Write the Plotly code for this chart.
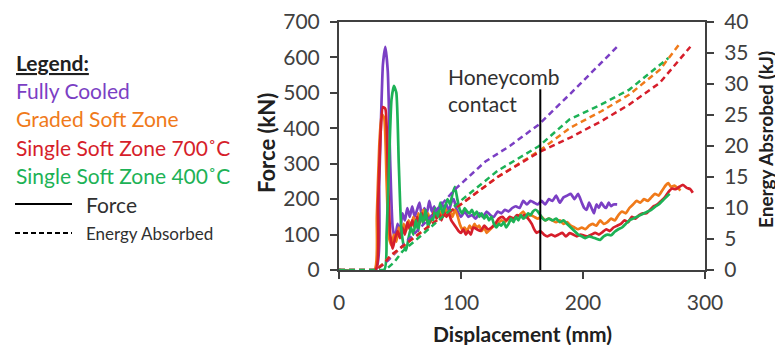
import plotly.graph_objects as go

# ---------------- data ----------------
fc_x = [0, 30, 33, 36, 38, 40, 42, 44, 46, 48, 50, 52, 54, 56, 58, 60, 62, 64, 66, 68, 70, 72, 74, 76, 78, 80, 82, 84, 86, 88, 90, 92, 94, 96, 98, 100, 103, 106, 109, 112, 115, 118, 121, 124, 127, 130, 133, 136, 139, 142, 145, 148, 151, 154, 157, 160, 163, 166, 169, 172, 175, 178, 181, 184, 187, 190, 193, 196, 199, 201, 203, 205, 207, 209, 211, 213, 215, 217, 219, 221, 223, 225, 228]
fc_f = [0, 0, 250, 580, 630, 560, 300, 120, 90, 130, 110, 160, 140, 175, 150, 180, 150, 170, 190, 150, 175, 160, 195, 165, 180, 150, 170, 190, 175, 185, 165, 190, 200, 175, 160, 150, 165, 150, 155, 145, 160, 150, 165, 155, 150, 165, 160, 170, 165, 175, 180, 175, 195, 185, 195, 190, 185, 195, 185, 200, 195, 210, 190, 205, 210, 215, 200, 215, 190, 175, 170, 190, 175, 160, 185, 175, 190, 180, 175, 190, 180, 185, 185]

gs_x = [0, 29, 31, 33, 35, 37, 39, 41, 43, 45, 47, 49, 51, 53, 55, 57, 59, 61, 63, 65, 67, 69, 71, 73, 75, 77, 79, 81, 83, 85, 87, 89, 91, 93, 95, 97, 99, 101, 103, 105, 107, 109, 111, 113, 115, 117, 119, 121, 124, 127, 130, 133, 136, 139, 142, 145, 148, 151, 154, 157, 160, 163, 166, 169, 172, 175, 178, 181, 184, 187, 190, 193, 196, 199, 202, 205, 208, 211, 214, 217, 220, 223, 226, 229, 232, 235, 238, 241, 244, 247, 250, 253, 256, 259, 262, 265, 268, 270, 272, 275, 278, 280]
gs_f = [0, 0, 150, 350, 440, 430, 250, 90, 70, 100, 80, 120, 100, 130, 110, 140, 120, 150, 125, 160, 140, 170, 145, 160, 135, 155, 170, 150, 165, 150, 175, 160, 165, 150, 170, 155, 130, 115, 120, 110, 125, 115, 130, 120, 125, 110, 120, 105, 115, 125, 130, 140, 135, 145, 140, 150, 155, 165, 150, 155, 150, 145, 150, 140, 145, 140, 135, 140, 130, 135, 125, 120, 115, 120, 115, 125, 130, 125, 140, 130, 135, 145, 140, 155, 165, 160, 175, 185, 195, 190, 200, 195, 205, 215, 210, 225, 240, 245, 235, 238, 230, 225]

s7_x = [0, 30, 32, 34, 36, 38, 40, 42, 44, 46, 48, 50, 52, 54, 56, 58, 60, 62, 64, 66, 68, 70, 72, 74, 76, 78, 80, 82, 84, 86, 88, 90, 92, 94, 96, 98, 100, 102, 104, 106, 108, 110, 113, 116, 119, 122, 125, 128, 131, 134, 137, 140, 143, 146, 149, 152, 155, 158, 160, 162, 165, 168, 171, 174, 177, 180, 183, 186, 189, 192, 195, 198, 201, 204, 207, 210, 213, 216, 219, 222, 225, 228, 231, 234, 237, 240, 243, 246, 249, 252, 255, 258, 261, 264, 267, 270, 273, 276, 279, 282, 285, 288, 290]
s7_f = [0, 0, 180, 380, 460, 455, 280, 100, 60, 90, 110, 90, 120, 100, 135, 115, 140, 120, 150, 130, 160, 140, 155, 130, 150, 165, 145, 160, 140, 165, 150, 160, 140, 130, 120, 110, 105, 115, 100, 110, 100, 120, 115, 110, 125, 115, 120, 130, 145, 150, 140, 150, 145, 155, 150, 155, 145, 130, 115, 105, 110, 100, 95, 100, 95, 100, 105, 95, 104, 100, 95, 100, 97, 95, 100, 105, 100, 107, 115, 110, 120, 125, 130, 140, 135, 150, 145, 155, 160, 160, 170, 180, 185, 195, 205, 220, 230, 228, 235, 240, 232, 228, 218]

s4_x = [0, 37, 39, 41, 43, 45, 47, 49, 51, 53, 55, 57, 59, 61, 63, 65, 67, 69, 71, 73, 75, 77, 79, 81, 83, 85, 87, 89, 91, 93, 95, 97, 99, 101, 103, 105, 107, 109, 111, 113, 115, 117, 119, 121, 123, 125, 127, 129, 131, 133, 135, 137, 139, 141, 143, 145, 147, 149, 151, 153, 155, 157, 159, 161, 163, 165, 167, 169, 172, 175, 178, 181, 184, 187, 190, 193, 196, 199, 202, 205, 208, 211, 214, 217, 220, 223, 226, 229, 232, 235, 238, 241, 244, 247, 250, 253, 256, 259, 262, 265, 268, 271]
s4_f = [0, 0, 100, 300, 480, 520, 500, 300, 120, 70, 55, 90, 120, 100, 140, 110, 160, 130, 170, 120, 150, 140, 175, 150, 190, 160, 180, 200, 185, 215, 235, 200, 170, 160, 175, 165, 160, 170, 155, 165, 150, 160, 145, 155, 140, 150, 130, 120, 130, 125, 135, 120, 130, 145, 135, 150, 140, 155, 145, 150, 160, 155, 165, 170, 165, 155, 145, 140, 145, 140, 145, 135, 140, 130, 120, 110, 100, 95, 90, 95, 92, 88, 85, 95, 100, 98, 108, 115, 120, 130, 140, 145, 150, 155, 160, 165, 170, 178, 185, 195, 205, 215]

fc_ex = [0, 30, 40, 50, 70, 95, 120, 140, 164, 190, 210, 229]
fc_e = [0, 0, 1.5, 3.5, 7.5, 13, 17.5, 20, 23.5, 28.5, 32.5, 36.2]
gs_ex = [0, 30, 36, 42, 60, 80, 100, 130, 164, 190, 215, 238, 263, 280]
gs_e = [0, 0, 1, 2.2, 5, 8, 10.6, 15, 19.2, 23, 25.6, 28.3, 32.3, 36.7]
s7_ex = [0, 30, 37, 42, 60, 80, 100, 130, 164, 190, 215, 238, 263, 288]
s7_e = [0, 0, 1, 2.3, 5, 8, 10.6, 15, 19, 21.4, 24, 26.7, 30.2, 36]
s4_ex = [0, 38, 45, 52, 70, 100, 130, 164, 189, 215, 238, 263, 270]
s4_e = [0, 0, 1.2, 3, 6, 11.2, 16, 20, 24.3, 26.7, 29.1, 33.2, 34.2]

series_names = ["Fully Cooled", "Graded Soft Zone", "Single Soft Zone 700˚C", "Single Soft Zone 400˚C"]
colors = ["#7B3FC4", "#F07A1A", "#D61E2B", "#1DB256"]

honeycomb_x = 165
honeycomb_top = 510

x_ticks = [0, 100, 200, 300]
force_ticks = [0, 100, 200, 300, 400, 500, 600, 700]
energy_ticks = [0, 5, 10, 15, 20, 25, 30, 35, 40]

# ---------------- figure ----------------
FONT = "Lato, Carlito, Calibri, sans-serif"
AX = "#404040"
TXT = "#303030"
FS = 21
fig = go.Figure()

energy = [(fc_ex, fc_e), (gs_ex, gs_e), (s7_ex, s7_e), (s4_ex, s4_e)]
force = [(fc_x, fc_f), (gs_x, gs_f), (s7_x, s7_f), (s4_x, s4_f)]

for (ex, ev), c, n in zip(energy, colors, series_names):
    fig.add_trace(go.Scatter(x=ex, y=ev, yaxis="y2", mode="lines", name=n + " energy",
                             line=dict(color=c, width=2.5, dash="6px,4px"), showlegend=False))
for (fx, fv), c, n in zip(force, colors, series_names):
    fig.add_trace(go.Scatter(x=fx, y=fv, mode="lines", name=n + " force",
                             line=dict(color=c, width=2.7, shape="spline", smoothing=0.5),
                             showlegend=False))

fig.add_shape(type="line", x0=honeycomb_x, x1=honeycomb_x, y0=0, y1=honeycomb_top,
              xref="x", yref="y", line=dict(color="black", width=2))


# screen-pixel helpers (plot area spans x 339..705, y 22..270 on screen)
def px(xp):
    return (xp - 339) / 366


def py(yp):
    return (270 - yp) / 248


def note(x, y, text, size=FS, color=TXT, xanchor="left", angle=0, align="left"):
    fig.add_annotation(x=px(x), y=py(y), xref="paper", yref="paper", text=text,
                       showarrow=False, xanchor=xanchor, yanchor="middle", textangle=angle,
                       align=align, font=dict(family=FONT, size=size, color=color))


note(446, 90, "Honeycomb<br>contact")

# legend block
note(14, 63, "<b><u>Legend:</u></b>", color="#202020")
for i, (n, c) in enumerate(zip(series_names, colors)):
    note(14, 90 + i * 28.5, n, color=c)
note(84, 204, "Force")
note(84, 233, "Energy Absorbed", size=17)
fig.add_shape(type="line", x0=px(15), x1=px(72), y0=py(204), y1=py(204), xref="paper", yref="paper",
              line=dict(color="black", width=2))
fig.add_shape(type="line", x0=px(15), x1=px(72), y0=py(233), y1=py(233), xref="paper", yref="paper",
              line=dict(color="black", width=2, dash="5px,3px"))

# axis titles
note(522, 333, "<b>Displacement (mm)</b>", color="#202020", xanchor="center", align="center")
note(266, 143, "<b>Force (kN)</b>", size=22, color="#202020", xanchor="center", angle=-90, align="center")
note(765, 140, "<b>Energy Absrobed (kJ)</b>", size=19, color="#202020", xanchor="center", angle=-90,
     align="center")

axis_common = dict(showgrid=False, zeroline=False, showline=True, linecolor=AX, linewidth=2,
                   ticks="outside", ticklen=7, tickwidth=2, tickcolor=AX, automargin=False,
                   ticklabelstandoff=6,
                   tickfont=dict(family=FONT, size=FS, color=AX))

# page body has an 8px margin, so the figure is offset by 8px on screen
fig.update_layout(
    width=775, height=337,
    margin=dict(l=331, r=78, t=14, b=75, autoexpand=False),
    paper_bgcolor="white", plot_bgcolor="white",
    font=dict(family=FONT, size=FS, color=AX),
    xaxis=dict(range=[0, 300], tickvals=x_ticks, mirror=True, **axis_common),
    yaxis=dict(range=[0, 700], tickvals=force_ticks, **axis_common),
    yaxis2=dict(range=[0, 40], tickvals=energy_ticks, overlaying="y", side="right", **axis_common),
)

fig.write_html("out.html")
